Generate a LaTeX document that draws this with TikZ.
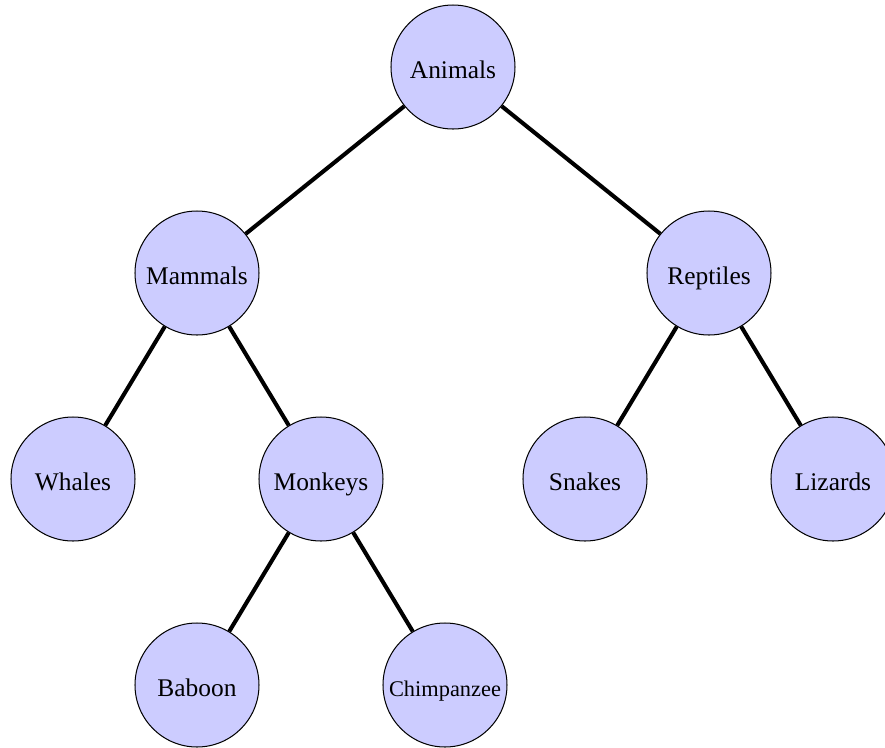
\documentclass[tikz,border=0pt]{standalone}
\usepackage{fontspec}
\setmainfont{Liberation Serif}
\begin{document}
\begin{tikzpicture}[x=0.3932pt, y=-0.3932pt,
  treenode/.style={circle, draw=black, line width=0.4pt, fill=blue!20,
    minimum size=124*0.3932pt, inner sep=0pt, text height=9pt, text depth=0pt,
    font=\fontsize{10}{12}\selectfont},
  smalltext/.style={font=\fontsize{8.8}{10}\selectfont},
  branch/.style={line width=1.6pt}]
  \useasboundingbox (0,0) rectangle (885,748);
  % tree nodes, one level every 206 units
  \node[treenode] (animals)  at (453,67)  {Animals};
  \node[treenode] (mammals)  at (197,273) {Mammals};
  \node[treenode] (reptiles) at (709,273) {Reptiles};
  \node[treenode] (whales)   at (73,479)  {Whales};
  \node[treenode] (monkeys)  at (321,479) {Monkeys};
  \node[treenode] (snakes)   at (585,479) {Snakes};
  \node[treenode] (lizards)  at (833,479) {Lizards};
  \node[treenode] (baboon)   at (197,685) {Baboon};
  \node[treenode, smalltext] (chimp) at (445,685) {Chimpanzee};
  % branches
  \draw[branch] (animals) -- (mammals);
  \draw[branch] (animals) -- (reptiles);
  \draw[branch] (mammals) -- (whales);
  \draw[branch] (mammals) -- (monkeys);
  \draw[branch] (reptiles) -- (snakes);
  \draw[branch] (reptiles) -- (lizards);
  \draw[branch] (monkeys) -- (baboon);
  \draw[branch] (monkeys) -- (chimp);
\end{tikzpicture}
\end{document}
